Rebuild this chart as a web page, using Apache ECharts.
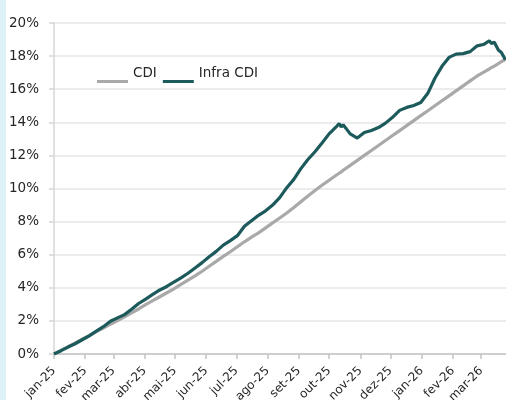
<!DOCTYPE html>
<html>
<head>
<meta charset="utf-8">
<script src="https://cdn.jsdelivr.net/npm/echarts@6/dist/echarts.min.js"></script>
<style>
  html, body { margin: 0; padding: 0; background: #ffffff; }
  #chart { width: 506px; height: 400px; }
</style>
</head>
<body>
<div id="chart"></div>
<script>
// ---- data ----
const dates = [
  '2025-01-01','2025-01-08','2025-01-15','2025-01-22','2025-01-29',
  '2025-02-05','2025-02-12','2025-02-19','2025-02-26',
  '2025-03-05','2025-03-12','2025-03-19','2025-03-26',
  '2025-04-02','2025-04-09','2025-04-16','2025-04-23','2025-04-30',
  '2025-05-07','2025-05-14','2025-05-21','2025-05-28',
  '2025-06-04','2025-06-11','2025-06-18','2025-06-25',
  '2025-07-02','2025-07-09','2025-07-16','2025-07-23','2025-07-30',
  '2025-08-06','2025-08-13','2025-08-20','2025-08-27',
  '2025-09-03','2025-09-10','2025-09-17','2025-09-24',
  '2025-10-01','2025-10-08','2025-10-11','2025-10-13','2025-10-15','2025-10-22','2025-10-29',
  '2025-11-05','2025-11-12','2025-11-19','2025-11-26',
  '2025-12-03','2025-12-10','2025-12-17','2025-12-24','2025-12-31',
  '2026-01-07','2026-01-14','2026-01-21','2026-01-28',
  '2026-02-04','2026-02-11','2026-02-18','2026-02-25',
  '2026-03-04','2026-03-09','2026-03-11','2026-03-14','2026-03-18','2026-03-21','2026-03-25'
];
const cdi = [
  0, 0.22, 0.45, 0.67, 0.9,
  1.12, 1.35, 1.57, 1.8,
  2.02, 2.25, 2.48, 2.72,
  2.98, 3.22, 3.46, 3.7, 3.94,
  4.2, 4.46, 4.72, 5.0,
  5.3, 5.6, 5.9, 6.18,
  6.48, 6.78, 7.06, 7.32, 7.62,
  7.92, 8.22, 8.52, 8.85,
  9.2, 9.55, 9.88, 10.2,
  10.5, 10.8, 10.92, 11.0, 11.1, 11.4, 11.7,
  12.0, 12.3, 12.6, 12.9,
  13.2, 13.5, 13.8, 14.1, 14.4,
  14.7, 15.0, 15.3, 15.6,
  15.9, 16.2, 16.5, 16.8,
  17.05, 17.22, 17.3, 17.4, 17.55, 17.66, 17.8
];
const infraCdi = [
  0, 0.2, 0.42, 0.62, 0.86,
  1.1, 1.38, 1.65, 1.98,
  2.18, 2.38, 2.7, 3.05,
  3.32, 3.6, 3.87, 4.08, 4.35,
  4.6, 4.88, 5.2, 5.52,
  5.88, 6.2, 6.58, 6.85,
  7.15, 7.72, 8.05, 8.38, 8.65,
  9.0, 9.45, 10.05, 10.55,
  11.2, 11.75, 12.22, 12.75,
  13.3, 13.72, 13.93, 13.72, 13.85, 13.3, 13.05,
  13.38, 13.5, 13.68, 13.95,
  14.3, 14.72, 14.9, 15.02, 15.2,
  15.75, 16.66, 17.38, 17.92,
  18.12, 18.15, 18.27, 18.62,
  18.72, 18.93, 18.77, 18.83, 18.37, 18.22, 17.78
];
const seriesNames = ['CDI', 'Infra CDI'];
const monthTicks = [
  '2025-01-01','2025-02-01','2025-03-01','2025-04-01','2025-05-01','2025-06-01',
  '2025-07-01','2025-08-01','2025-09-01','2025-10-01','2025-11-01','2025-12-01',
  '2026-01-01','2026-02-01','2026-03-01'
];
const monthNames = ['jan','fev','mar','abr','mai','jun','jul','ago','set','out','nov','dez'];
const yTicks = [0, 2, 4, 6, 8, 10, 12, 14, 16, 18, 20];

// ---- build ----
function ts(s) { const p = s.split('-').map(Number); return new Date(p[0], p[1] - 1, p[2]).getTime(); }
const tickTs = monthTicks.map(ts);
const xMin = ts('2025-01-01');
const xMax = new Date(2026, 2, 25, 14).getTime();

const font = 'DejaVu Sans';
const chart = echarts.init(document.getElementById('chart'), null, { renderer: 'canvas' });
chart.setOption({
  animation: false,
  backgroundColor: '#ffffff',
  graphic: [{
    type: 'rect', left: 0, top: 0, z: -1,
    shape: { width: 6, height: 400 },
    style: { fill: '#dcf2f7' }
  }],
  grid: { left: 54, right: 0, top: 23, bottom: 46, containLabel: false, outerBoundsMode: 'none' },
  legend: {
    data: seriesNames,
    left: 92, top: 59,
    icon: 'path://M0,0h0.01v0.01h-0.01z M0,16h31v3h-31z',
    itemWidth: 31, itemHeight: 19, itemGap: 6,
    textStyle: { fontFamily: font, fontSize: 13.5, color: '#262626' }
  },
  xAxis: {
    type: 'value', min: xMin, max: xMax,
    axisLine: { show: true, lineStyle: { color: '#c4c4c4', width: 1.5 } },
    axisTick: { show: true, length: 5, customValues: tickTs, lineStyle: { color: '#c4c4c4', width: 1.5 } },
    axisLabel: {
      customValues: tickTs, rotate: 45, margin: 15,
      fontFamily: font, fontSize: 12, color: '#262626',
      formatter: function (v) { const d = new Date(v); return monthNames[d.getMonth()] + '-' + String(d.getFullYear()).slice(2); }
    },
    splitLine: { show: false }
  },
  yAxis: {
    type: 'value', min: yTicks[0], max: yTicks[yTicks.length - 1], interval: 2,
    axisLine: { show: true, lineStyle: { color: '#d6d6d6', width: 1.5 } },
    axisTick: { show: true, length: 5, lineStyle: { color: '#d6d6d6', width: 1.5 } },
    axisLabel: { margin: 15, fontFamily: font, fontSize: 13.5, color: '#262626', formatter: '{value}%' },
    splitLine: { show: true, lineStyle: { color: '#e6e6e6', width: 1.5 } }
  },
  series: [
    {
      name: seriesNames[0], type: 'line', showSymbol: false, symbol: 'none',
      data: dates.map((d, i) => [ts(d), cdi[i]]),
      lineStyle: { color: '#a9a9a9', width: 3.2 }, itemStyle: { color: '#a9a9a9' }, z: 2
    },
    {
      name: seriesNames[1], type: 'line', showSymbol: false, symbol: 'none',
      data: dates.map((d, i) => [ts(d), infraCdi[i]]),
      lineStyle: { color: '#1c5a5c', width: 3.2 }, itemStyle: { color: '#1c5a5c' }, z: 3
    }
  ]
});
</script>
</body>
</html>
